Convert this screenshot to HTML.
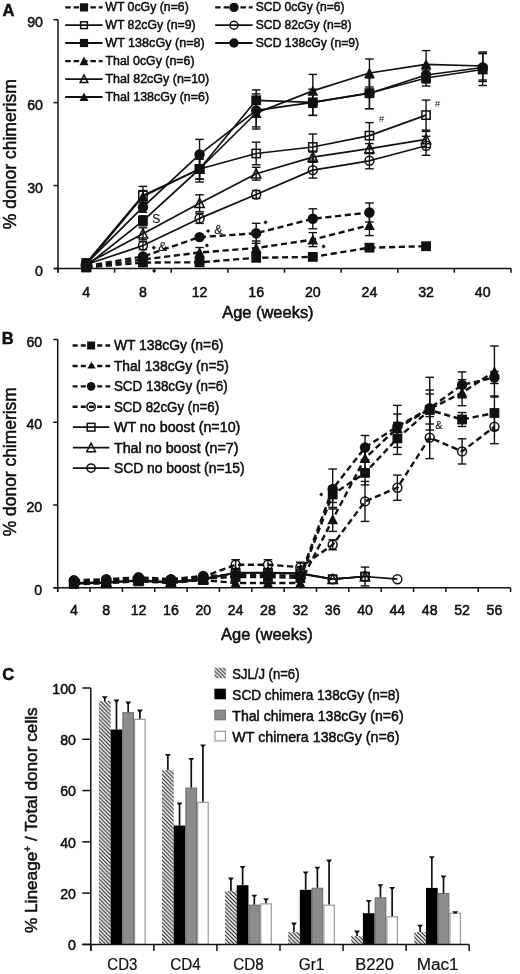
<!DOCTYPE html><html><head><meta charset="utf-8"><style>html,body{margin:0;padding:0;background:#fff;}svg{display:block;filter:blur(0.3px);}text{stroke:#000;stroke-width:0.45px;}</style></head><body>
<svg width="520" height="974" viewBox="0 0 520 974" font-family='"Liberation Sans", sans-serif' fill="#111">
<defs><pattern id="hatch" patternUnits="userSpaceOnUse" width="3.9" height="3.9"><rect width="3.9" height="3.9" fill="#fff"/><path d="M-1,-1 L4.9,4.9 M-1,2.9 L1,4.9 M2.9,-1 L4.9,1" stroke="#111" stroke-width="1.1"/></pattern></defs>
<rect width="520" height="974" fill="#fff"/>
<text x="2.60" y="16.40" font-size="16.5" font-weight="bold" >A</text>
<line x1="58.0" y1="19.70" x2="58.0" y2="272.50" stroke="#111" stroke-width="1.5"/>
<line x1="54.00" y1="268.5" x2="511.0" y2="268.5" stroke="#111" stroke-width="1.5"/>
<line x1="53.50" y1="268.50" x2="58.0" y2="268.50" stroke="#111" stroke-width="1.5"/>
<text x="43.00" y="275.90" font-size="14.2" text-anchor="end" >0</text>
<line x1="53.50" y1="185.57" x2="58.0" y2="185.57" stroke="#111" stroke-width="1.5"/>
<text x="43.00" y="192.97" font-size="14.2" text-anchor="end" >30</text>
<line x1="53.50" y1="102.63" x2="58.0" y2="102.63" stroke="#111" stroke-width="1.5"/>
<text x="43.00" y="110.03" font-size="14.2" text-anchor="end" >60</text>
<line x1="53.50" y1="19.70" x2="58.0" y2="19.70" stroke="#111" stroke-width="1.5"/>
<text x="43.00" y="27.10" font-size="14.2" text-anchor="end" >90</text>
<line x1="58.00" y1="268.5" x2="58.00" y2="272.70" stroke="#111" stroke-width="1.5"/>
<line x1="114.62" y1="268.5" x2="114.62" y2="272.70" stroke="#111" stroke-width="1.5"/>
<line x1="171.25" y1="268.5" x2="171.25" y2="272.70" stroke="#111" stroke-width="1.5"/>
<line x1="227.88" y1="268.5" x2="227.88" y2="272.70" stroke="#111" stroke-width="1.5"/>
<line x1="284.50" y1="268.5" x2="284.50" y2="272.70" stroke="#111" stroke-width="1.5"/>
<line x1="341.12" y1="268.5" x2="341.12" y2="272.70" stroke="#111" stroke-width="1.5"/>
<line x1="397.75" y1="268.5" x2="397.75" y2="272.70" stroke="#111" stroke-width="1.5"/>
<line x1="454.38" y1="268.5" x2="454.38" y2="272.70" stroke="#111" stroke-width="1.5"/>
<line x1="511.00" y1="268.5" x2="511.00" y2="272.70" stroke="#111" stroke-width="1.5"/>
<text x="86.31" y="296.50" font-size="14.2" text-anchor="middle" >4</text>
<text x="142.94" y="296.50" font-size="14.2" text-anchor="middle" >8</text>
<text x="199.56" y="296.50" font-size="14.2" text-anchor="middle" >12</text>
<text x="256.19" y="296.50" font-size="14.2" text-anchor="middle" >16</text>
<text x="312.81" y="296.50" font-size="14.2" text-anchor="middle" >20</text>
<text x="369.44" y="296.50" font-size="14.2" text-anchor="middle" >24</text>
<text x="426.06" y="296.50" font-size="14.2" text-anchor="middle" >32</text>
<text x="482.69" y="296.50" font-size="14.2" text-anchor="middle" >40</text>
<text x="222.20" y="317.80" font-size="15.6" textLength="91.40" lengthAdjust="spacingAndGlyphs" >Age (weeks)</text>
<text transform="translate(15.6,229.2) rotate(-90)" font-size="17.6" textLength="150" lengthAdjust="spacingAndGlyphs">% donor chimerism</text>
<line x1="65.20" y1="7.40" x2="102.60" y2="7.40" stroke="#111" stroke-width="2.3" stroke-dasharray="5.5 2.9"/>
<rect x="79.90" y="3.30" width="8.20" height="8.20" fill="#111"/>
<text x="105.30" y="11.40" font-size="12.3" textLength="83.50" lengthAdjust="spacingAndGlyphs" >WT 0cGy (n=6)</text>
<line x1="65.20" y1="25.20" x2="102.60" y2="25.20" stroke="#111" stroke-width="1.8"/>
<rect x="80.65" y="21.85" width="6.70" height="6.70" fill="none" stroke="#111" stroke-width="1.5"/>
<text x="105.30" y="29.20" font-size="12.3" textLength="90.30" lengthAdjust="spacingAndGlyphs" >WT 82cGy (n=9)</text>
<line x1="65.20" y1="43.00" x2="102.60" y2="43.00" stroke="#111" stroke-width="1.8"/>
<rect x="79.90" y="38.90" width="8.20" height="8.20" fill="#111"/>
<text x="105.30" y="47.00" font-size="12.3" textLength="99.40" lengthAdjust="spacingAndGlyphs" >WT 138cGy (n=8)</text>
<line x1="65.20" y1="61.20" x2="102.60" y2="61.20" stroke="#111" stroke-width="2.3" stroke-dasharray="5.5 2.9"/>
<polygon points="84.00,56.60 88.51,65.30 79.49,65.30" fill="#111"/>
<text x="105.50" y="65.20" font-size="12.3" textLength="89.10" lengthAdjust="spacingAndGlyphs" >Thal 0cGy (n=6)</text>
<line x1="65.20" y1="79.10" x2="102.60" y2="79.10" stroke="#111" stroke-width="1.8"/>
<polygon points="84.00,75.00 87.81,82.60 80.19,82.60" fill="none" stroke="#111" stroke-width="1.5" stroke-linejoin="miter"/>
<text x="105.50" y="83.10" font-size="12.3" textLength="103.70" lengthAdjust="spacingAndGlyphs" >Thal 82cGy (n=10)</text>
<line x1="65.20" y1="97.00" x2="102.60" y2="97.00" stroke="#111" stroke-width="1.8"/>
<polygon points="84.00,92.40 88.51,101.10 79.49,101.10" fill="#111"/>
<text x="105.50" y="101.00" font-size="12.3" textLength="103.70" lengthAdjust="spacingAndGlyphs" >Thal 138cGy (n=6)</text>
<line x1="215.20" y1="7.40" x2="252.60" y2="7.40" stroke="#111" stroke-width="2.3" stroke-dasharray="5.5 2.9"/>
<circle cx="234.00" cy="7.40" r="4.70" fill="#111"/>
<text x="255.70" y="11.40" font-size="12.3" textLength="88.90" lengthAdjust="spacingAndGlyphs" >SCD 0cGy (n=6)</text>
<line x1="215.20" y1="25.20" x2="252.60" y2="25.20" stroke="#111" stroke-width="1.8"/>
<circle cx="234.00" cy="25.20" r="3.95" fill="none" stroke="#111" stroke-width="1.5"/>
<text x="255.70" y="29.20" font-size="12.3" textLength="95.80" lengthAdjust="spacingAndGlyphs" >SCD 82cGy (n=8)</text>
<line x1="215.20" y1="43.00" x2="252.60" y2="43.00" stroke="#111" stroke-width="1.8"/>
<circle cx="234.00" cy="43.00" r="4.70" fill="#111"/>
<text x="255.70" y="47.00" font-size="12.3" textLength="103.50" lengthAdjust="spacingAndGlyphs" >SCD 138cGy (n=9)</text>
<polyline points="86.31,266.00 142.94,220.80 199.56,169.00 256.19,100.30 312.81,102.40 369.44,93.20 426.06,78.00 482.69,69.50" fill="none" stroke="#111" stroke-width="1.7" stroke-linejoin="round"/>
<polyline points="86.31,263.50 142.94,207.20 199.56,154.40 256.19,110.40 312.81,102.40 369.44,93.20 426.06,75.00 482.69,67.50" fill="none" stroke="#111" stroke-width="1.7" stroke-linejoin="round"/>
<polyline points="86.31,264.50 142.94,196.50 199.56,169.00 256.19,113.00 312.81,90.90 369.44,73.00 426.06,64.30 482.69,66.00" fill="none" stroke="#111" stroke-width="1.7" stroke-linejoin="round"/>
<polyline points="86.31,263.00 142.94,195.40 199.56,169.00 256.19,153.50 312.81,147.00 369.44,135.60 426.06,115.10" fill="none" stroke="#111" stroke-width="1.7" stroke-linejoin="round"/>
<polyline points="86.31,264.00 142.94,233.80 199.56,203.30 256.19,173.70 312.81,157.10 369.44,148.60 426.06,139.40" fill="none" stroke="#111" stroke-width="1.7" stroke-linejoin="round"/>
<polyline points="86.31,264.50 142.94,245.60 199.56,218.40 256.19,194.50 312.81,170.10 369.44,160.80 426.06,145.80" fill="none" stroke="#111" stroke-width="1.7" stroke-linejoin="round"/>
<polyline points="86.31,266.00 142.94,256.50 199.56,237.10 256.19,233.30 312.81,218.80 369.44,212.50" fill="none" stroke="#111" stroke-width="2.4" stroke-dasharray="6.2 3.6" stroke-linejoin="round"/>
<polyline points="86.31,267.00 142.94,259.50 199.56,252.50 256.19,248.00 312.81,239.60 369.44,225.20" fill="none" stroke="#111" stroke-width="2.4" stroke-dasharray="6.2 3.6" stroke-linejoin="round"/>
<polyline points="86.31,267.50 142.94,262.50 199.56,262.30 256.19,257.80 312.81,256.90 369.44,247.70 426.06,246.20" fill="none" stroke="#111" stroke-width="2.4" stroke-dasharray="6.2 3.6" stroke-linejoin="round"/>
<rect x="81.41" y="261.10" width="9.80" height="9.80" fill="#111"/>
<rect x="138.04" y="215.90" width="9.80" height="9.80" fill="#111"/>
<rect x="194.66" y="164.10" width="9.80" height="9.80" fill="#111"/>
<rect x="251.29" y="95.40" width="9.80" height="9.80" fill="#111"/>
<rect x="307.91" y="97.50" width="9.80" height="9.80" fill="#111"/>
<rect x="364.54" y="88.30" width="9.80" height="9.80" fill="#111"/>
<rect x="421.16" y="73.10" width="9.80" height="9.80" fill="#111"/>
<rect x="477.79" y="64.60" width="9.80" height="9.80" fill="#111"/>
<circle cx="86.31" cy="263.50" r="5.20" fill="#111"/>
<circle cx="142.94" cy="207.20" r="5.20" fill="#111"/>
<circle cx="199.56" cy="154.40" r="5.20" fill="#111"/>
<circle cx="256.19" cy="110.40" r="5.20" fill="#111"/>
<circle cx="312.81" cy="102.40" r="5.20" fill="#111"/>
<circle cx="369.44" cy="93.20" r="5.20" fill="#111"/>
<circle cx="426.06" cy="75.00" r="5.20" fill="#111"/>
<circle cx="482.69" cy="67.50" r="5.20" fill="#111"/>
<polygon points="86.31,259.10 91.70,269.40 80.92,269.40" fill="#111"/>
<polygon points="142.94,191.10 148.33,201.40 137.55,201.40" fill="#111"/>
<polygon points="199.56,163.60 204.95,173.90 194.17,173.90" fill="#111"/>
<polygon points="256.19,107.60 261.58,117.90 250.80,117.90" fill="#111"/>
<polygon points="312.81,85.50 318.20,95.80 307.42,95.80" fill="#111"/>
<polygon points="369.44,67.60 374.83,77.90 364.05,77.90" fill="#111"/>
<polygon points="426.06,58.90 431.45,69.20 420.67,69.20" fill="#111"/>
<polygon points="482.69,60.60 488.08,70.90 477.30,70.90" fill="#111"/>
<rect x="82.16" y="258.85" width="8.30" height="8.30" fill="none" stroke="#111" stroke-width="1.5"/>
<rect x="138.79" y="191.25" width="8.30" height="8.30" fill="none" stroke="#111" stroke-width="1.5"/>
<rect x="195.41" y="164.85" width="8.30" height="8.30" fill="none" stroke="#111" stroke-width="1.5"/>
<rect x="252.04" y="149.35" width="8.30" height="8.30" fill="none" stroke="#111" stroke-width="1.5"/>
<rect x="308.66" y="142.85" width="8.30" height="8.30" fill="none" stroke="#111" stroke-width="1.5"/>
<rect x="365.29" y="131.45" width="8.30" height="8.30" fill="none" stroke="#111" stroke-width="1.5"/>
<rect x="421.91" y="110.95" width="8.30" height="8.30" fill="none" stroke="#111" stroke-width="1.5"/>
<polygon points="86.31,259.10 91.00,268.30 81.62,268.30" fill="none" stroke="#111" stroke-width="1.5" stroke-linejoin="miter"/>
<polygon points="142.94,228.90 147.63,238.10 138.25,238.10" fill="none" stroke="#111" stroke-width="1.5" stroke-linejoin="miter"/>
<polygon points="199.56,198.40 204.25,207.60 194.87,207.60" fill="none" stroke="#111" stroke-width="1.5" stroke-linejoin="miter"/>
<polygon points="256.19,168.80 260.88,178.00 251.50,178.00" fill="none" stroke="#111" stroke-width="1.5" stroke-linejoin="miter"/>
<polygon points="312.81,152.20 317.50,161.40 308.12,161.40" fill="none" stroke="#111" stroke-width="1.5" stroke-linejoin="miter"/>
<polygon points="369.44,143.70 374.13,152.90 364.75,152.90" fill="none" stroke="#111" stroke-width="1.5" stroke-linejoin="miter"/>
<polygon points="426.06,134.50 430.75,143.70 421.37,143.70" fill="none" stroke="#111" stroke-width="1.5" stroke-linejoin="miter"/>
<circle cx="86.31" cy="264.50" r="4.45" fill="none" stroke="#111" stroke-width="1.5"/>
<circle cx="142.94" cy="245.60" r="4.45" fill="none" stroke="#111" stroke-width="1.5"/>
<circle cx="199.56" cy="218.40" r="4.45" fill="none" stroke="#111" stroke-width="1.5"/>
<circle cx="256.19" cy="194.50" r="4.45" fill="none" stroke="#111" stroke-width="1.5"/>
<circle cx="312.81" cy="170.10" r="4.45" fill="none" stroke="#111" stroke-width="1.5"/>
<circle cx="369.44" cy="160.80" r="4.45" fill="none" stroke="#111" stroke-width="1.5"/>
<circle cx="426.06" cy="145.80" r="4.45" fill="none" stroke="#111" stroke-width="1.5"/>
<circle cx="86.31" cy="266.00" r="5.20" fill="#111"/>
<circle cx="142.94" cy="256.50" r="5.20" fill="#111"/>
<circle cx="199.56" cy="237.10" r="5.20" fill="#111"/>
<circle cx="256.19" cy="233.30" r="5.20" fill="#111"/>
<circle cx="312.81" cy="218.80" r="5.20" fill="#111"/>
<circle cx="369.44" cy="212.50" r="5.20" fill="#111"/>
<polygon points="86.31,261.60 91.70,271.90 80.92,271.90" fill="#111"/>
<polygon points="142.94,254.10 148.33,264.40 137.55,264.40" fill="#111"/>
<polygon points="199.56,247.10 204.95,257.40 194.17,257.40" fill="#111"/>
<polygon points="256.19,242.60 261.58,252.90 250.80,252.90" fill="#111"/>
<polygon points="312.81,234.20 318.20,244.50 307.42,244.50" fill="#111"/>
<polygon points="369.44,219.80 374.83,230.10 364.05,230.10" fill="#111"/>
<rect x="81.41" y="262.60" width="9.80" height="9.80" fill="#111"/>
<rect x="138.04" y="257.60" width="9.80" height="9.80" fill="#111"/>
<rect x="194.66" y="257.40" width="9.80" height="9.80" fill="#111"/>
<rect x="251.29" y="252.90" width="9.80" height="9.80" fill="#111"/>
<rect x="307.91" y="252.00" width="9.80" height="9.80" fill="#111"/>
<rect x="364.54" y="242.80" width="9.80" height="9.80" fill="#111"/>
<rect x="421.16" y="241.30" width="9.80" height="9.80" fill="#111"/>
<line x1="142.94" y1="215.80" x2="142.94" y2="225.80" stroke="#111" stroke-width="1.4"/>
<line x1="138.64" y1="215.80" x2="147.24" y2="215.80" stroke="#111" stroke-width="1.4"/>
<line x1="138.64" y1="225.80" x2="147.24" y2="225.80" stroke="#111" stroke-width="1.4"/>
<line x1="199.56" y1="159.00" x2="199.56" y2="179.00" stroke="#111" stroke-width="1.4"/>
<line x1="195.26" y1="159.00" x2="203.86" y2="159.00" stroke="#111" stroke-width="1.4"/>
<line x1="195.26" y1="179.00" x2="203.86" y2="179.00" stroke="#111" stroke-width="1.4"/>
<line x1="256.19" y1="89.90" x2="256.19" y2="110.70" stroke="#111" stroke-width="1.4"/>
<line x1="251.89" y1="89.90" x2="260.49" y2="89.90" stroke="#111" stroke-width="1.4"/>
<line x1="251.89" y1="110.70" x2="260.49" y2="110.70" stroke="#111" stroke-width="1.4"/>
<line x1="312.81" y1="89.40" x2="312.81" y2="115.40" stroke="#111" stroke-width="1.4"/>
<line x1="308.51" y1="89.40" x2="317.11" y2="89.40" stroke="#111" stroke-width="1.4"/>
<line x1="308.51" y1="115.40" x2="317.11" y2="115.40" stroke="#111" stroke-width="1.4"/>
<line x1="369.44" y1="77.70" x2="369.44" y2="108.70" stroke="#111" stroke-width="1.4"/>
<line x1="365.14" y1="77.70" x2="373.74" y2="77.70" stroke="#111" stroke-width="1.4"/>
<line x1="365.14" y1="108.70" x2="373.74" y2="108.70" stroke="#111" stroke-width="1.4"/>
<line x1="426.06" y1="70.00" x2="426.06" y2="86.00" stroke="#111" stroke-width="1.4"/>
<line x1="421.76" y1="70.00" x2="430.36" y2="70.00" stroke="#111" stroke-width="1.4"/>
<line x1="421.76" y1="86.00" x2="430.36" y2="86.00" stroke="#111" stroke-width="1.4"/>
<line x1="482.69" y1="53.50" x2="482.69" y2="85.50" stroke="#111" stroke-width="1.4"/>
<line x1="478.39" y1="53.50" x2="486.99" y2="53.50" stroke="#111" stroke-width="1.4"/>
<line x1="478.39" y1="85.50" x2="486.99" y2="85.50" stroke="#111" stroke-width="1.4"/>
<line x1="142.94" y1="202.20" x2="142.94" y2="212.20" stroke="#111" stroke-width="1.4"/>
<line x1="138.64" y1="202.20" x2="147.24" y2="202.20" stroke="#111" stroke-width="1.4"/>
<line x1="138.64" y1="212.20" x2="147.24" y2="212.20" stroke="#111" stroke-width="1.4"/>
<line x1="199.56" y1="139.40" x2="199.56" y2="169.40" stroke="#111" stroke-width="1.4"/>
<line x1="195.26" y1="139.40" x2="203.86" y2="139.40" stroke="#111" stroke-width="1.4"/>
<line x1="195.26" y1="169.40" x2="203.86" y2="169.40" stroke="#111" stroke-width="1.4"/>
<line x1="256.19" y1="93.90" x2="256.19" y2="126.90" stroke="#111" stroke-width="1.4"/>
<line x1="251.89" y1="93.90" x2="260.49" y2="93.90" stroke="#111" stroke-width="1.4"/>
<line x1="251.89" y1="126.90" x2="260.49" y2="126.90" stroke="#111" stroke-width="1.4"/>
<line x1="312.81" y1="89.40" x2="312.81" y2="115.40" stroke="#111" stroke-width="1.4"/>
<line x1="308.51" y1="89.40" x2="317.11" y2="89.40" stroke="#111" stroke-width="1.4"/>
<line x1="308.51" y1="115.40" x2="317.11" y2="115.40" stroke="#111" stroke-width="1.4"/>
<line x1="369.44" y1="77.70" x2="369.44" y2="108.70" stroke="#111" stroke-width="1.4"/>
<line x1="365.14" y1="77.70" x2="373.74" y2="77.70" stroke="#111" stroke-width="1.4"/>
<line x1="365.14" y1="108.70" x2="373.74" y2="108.70" stroke="#111" stroke-width="1.4"/>
<line x1="426.06" y1="67.00" x2="426.06" y2="83.00" stroke="#111" stroke-width="1.4"/>
<line x1="421.76" y1="67.00" x2="430.36" y2="67.00" stroke="#111" stroke-width="1.4"/>
<line x1="421.76" y1="83.00" x2="430.36" y2="83.00" stroke="#111" stroke-width="1.4"/>
<line x1="482.69" y1="53.50" x2="482.69" y2="81.50" stroke="#111" stroke-width="1.4"/>
<line x1="478.39" y1="53.50" x2="486.99" y2="53.50" stroke="#111" stroke-width="1.4"/>
<line x1="478.39" y1="81.50" x2="486.99" y2="81.50" stroke="#111" stroke-width="1.4"/>
<line x1="142.94" y1="190.50" x2="142.94" y2="202.50" stroke="#111" stroke-width="1.4"/>
<line x1="138.64" y1="190.50" x2="147.24" y2="190.50" stroke="#111" stroke-width="1.4"/>
<line x1="138.64" y1="202.50" x2="147.24" y2="202.50" stroke="#111" stroke-width="1.4"/>
<line x1="199.56" y1="159.00" x2="199.56" y2="179.00" stroke="#111" stroke-width="1.4"/>
<line x1="195.26" y1="159.00" x2="203.86" y2="159.00" stroke="#111" stroke-width="1.4"/>
<line x1="195.26" y1="179.00" x2="203.86" y2="179.00" stroke="#111" stroke-width="1.4"/>
<line x1="256.19" y1="97.00" x2="256.19" y2="129.00" stroke="#111" stroke-width="1.4"/>
<line x1="251.89" y1="97.00" x2="260.49" y2="97.00" stroke="#111" stroke-width="1.4"/>
<line x1="251.89" y1="129.00" x2="260.49" y2="129.00" stroke="#111" stroke-width="1.4"/>
<line x1="312.81" y1="74.40" x2="312.81" y2="107.40" stroke="#111" stroke-width="1.4"/>
<line x1="308.51" y1="74.40" x2="317.11" y2="74.40" stroke="#111" stroke-width="1.4"/>
<line x1="308.51" y1="107.40" x2="317.11" y2="107.40" stroke="#111" stroke-width="1.4"/>
<line x1="369.44" y1="59.00" x2="369.44" y2="87.00" stroke="#111" stroke-width="1.4"/>
<line x1="365.14" y1="59.00" x2="373.74" y2="59.00" stroke="#111" stroke-width="1.4"/>
<line x1="365.14" y1="87.00" x2="373.74" y2="87.00" stroke="#111" stroke-width="1.4"/>
<line x1="426.06" y1="50.60" x2="426.06" y2="78.00" stroke="#111" stroke-width="1.4"/>
<line x1="421.76" y1="50.60" x2="430.36" y2="50.60" stroke="#111" stroke-width="1.4"/>
<line x1="421.76" y1="78.00" x2="430.36" y2="78.00" stroke="#111" stroke-width="1.4"/>
<line x1="482.69" y1="52.00" x2="482.69" y2="80.00" stroke="#111" stroke-width="1.4"/>
<line x1="478.39" y1="52.00" x2="486.99" y2="52.00" stroke="#111" stroke-width="1.4"/>
<line x1="478.39" y1="80.00" x2="486.99" y2="80.00" stroke="#111" stroke-width="1.4"/>
<line x1="86.31" y1="259.50" x2="86.31" y2="266.50" stroke="#111" stroke-width="1.4"/>
<line x1="82.01" y1="259.50" x2="90.61" y2="259.50" stroke="#111" stroke-width="1.4"/>
<line x1="82.01" y1="266.50" x2="90.61" y2="266.50" stroke="#111" stroke-width="1.4"/>
<line x1="142.94" y1="186.40" x2="142.94" y2="204.40" stroke="#111" stroke-width="1.4"/>
<line x1="138.64" y1="186.40" x2="147.24" y2="186.40" stroke="#111" stroke-width="1.4"/>
<line x1="138.64" y1="204.40" x2="147.24" y2="204.40" stroke="#111" stroke-width="1.4"/>
<line x1="199.56" y1="156.00" x2="199.56" y2="182.00" stroke="#111" stroke-width="1.4"/>
<line x1="195.26" y1="156.00" x2="203.86" y2="156.00" stroke="#111" stroke-width="1.4"/>
<line x1="195.26" y1="182.00" x2="203.86" y2="182.00" stroke="#111" stroke-width="1.4"/>
<line x1="256.19" y1="142.20" x2="256.19" y2="164.80" stroke="#111" stroke-width="1.4"/>
<line x1="251.89" y1="142.20" x2="260.49" y2="142.20" stroke="#111" stroke-width="1.4"/>
<line x1="251.89" y1="164.80" x2="260.49" y2="164.80" stroke="#111" stroke-width="1.4"/>
<line x1="312.81" y1="134.00" x2="312.81" y2="160.00" stroke="#111" stroke-width="1.4"/>
<line x1="308.51" y1="134.00" x2="317.11" y2="134.00" stroke="#111" stroke-width="1.4"/>
<line x1="308.51" y1="160.00" x2="317.11" y2="160.00" stroke="#111" stroke-width="1.4"/>
<line x1="369.44" y1="122.60" x2="369.44" y2="148.60" stroke="#111" stroke-width="1.4"/>
<line x1="365.14" y1="122.60" x2="373.74" y2="122.60" stroke="#111" stroke-width="1.4"/>
<line x1="365.14" y1="148.60" x2="373.74" y2="148.60" stroke="#111" stroke-width="1.4"/>
<line x1="426.06" y1="100.10" x2="426.06" y2="130.10" stroke="#111" stroke-width="1.4"/>
<line x1="421.76" y1="100.10" x2="430.36" y2="100.10" stroke="#111" stroke-width="1.4"/>
<line x1="421.76" y1="130.10" x2="430.36" y2="130.10" stroke="#111" stroke-width="1.4"/>
<line x1="86.31" y1="260.50" x2="86.31" y2="267.50" stroke="#111" stroke-width="1.4"/>
<line x1="82.01" y1="260.50" x2="90.61" y2="260.50" stroke="#111" stroke-width="1.4"/>
<line x1="82.01" y1="267.50" x2="90.61" y2="267.50" stroke="#111" stroke-width="1.4"/>
<line x1="142.94" y1="227.80" x2="142.94" y2="239.80" stroke="#111" stroke-width="1.4"/>
<line x1="138.64" y1="227.80" x2="147.24" y2="227.80" stroke="#111" stroke-width="1.4"/>
<line x1="138.64" y1="239.80" x2="147.24" y2="239.80" stroke="#111" stroke-width="1.4"/>
<line x1="199.56" y1="194.80" x2="199.56" y2="211.80" stroke="#111" stroke-width="1.4"/>
<line x1="195.26" y1="194.80" x2="203.86" y2="194.80" stroke="#111" stroke-width="1.4"/>
<line x1="195.26" y1="211.80" x2="203.86" y2="211.80" stroke="#111" stroke-width="1.4"/>
<line x1="256.19" y1="167.30" x2="256.19" y2="180.10" stroke="#111" stroke-width="1.4"/>
<line x1="251.89" y1="167.30" x2="260.49" y2="167.30" stroke="#111" stroke-width="1.4"/>
<line x1="251.89" y1="180.10" x2="260.49" y2="180.10" stroke="#111" stroke-width="1.4"/>
<line x1="312.81" y1="152.10" x2="312.81" y2="162.10" stroke="#111" stroke-width="1.4"/>
<line x1="308.51" y1="152.10" x2="317.11" y2="152.10" stroke="#111" stroke-width="1.4"/>
<line x1="308.51" y1="162.10" x2="317.11" y2="162.10" stroke="#111" stroke-width="1.4"/>
<line x1="369.44" y1="143.60" x2="369.44" y2="153.60" stroke="#111" stroke-width="1.4"/>
<line x1="365.14" y1="143.60" x2="373.74" y2="143.60" stroke="#111" stroke-width="1.4"/>
<line x1="365.14" y1="153.60" x2="373.74" y2="153.60" stroke="#111" stroke-width="1.4"/>
<line x1="426.06" y1="131.40" x2="426.06" y2="147.40" stroke="#111" stroke-width="1.4"/>
<line x1="421.76" y1="131.40" x2="430.36" y2="131.40" stroke="#111" stroke-width="1.4"/>
<line x1="421.76" y1="147.40" x2="430.36" y2="147.40" stroke="#111" stroke-width="1.4"/>
<line x1="86.31" y1="261.00" x2="86.31" y2="268.00" stroke="#111" stroke-width="1.4"/>
<line x1="82.01" y1="261.00" x2="90.61" y2="261.00" stroke="#111" stroke-width="1.4"/>
<line x1="82.01" y1="268.00" x2="90.61" y2="268.00" stroke="#111" stroke-width="1.4"/>
<line x1="142.94" y1="241.60" x2="142.94" y2="249.60" stroke="#111" stroke-width="1.4"/>
<line x1="138.64" y1="241.60" x2="147.24" y2="241.60" stroke="#111" stroke-width="1.4"/>
<line x1="138.64" y1="249.60" x2="147.24" y2="249.60" stroke="#111" stroke-width="1.4"/>
<line x1="199.56" y1="213.40" x2="199.56" y2="223.40" stroke="#111" stroke-width="1.4"/>
<line x1="195.26" y1="213.40" x2="203.86" y2="213.40" stroke="#111" stroke-width="1.4"/>
<line x1="195.26" y1="223.40" x2="203.86" y2="223.40" stroke="#111" stroke-width="1.4"/>
<line x1="256.19" y1="190.50" x2="256.19" y2="198.50" stroke="#111" stroke-width="1.4"/>
<line x1="251.89" y1="190.50" x2="260.49" y2="190.50" stroke="#111" stroke-width="1.4"/>
<line x1="251.89" y1="198.50" x2="260.49" y2="198.50" stroke="#111" stroke-width="1.4"/>
<line x1="312.81" y1="162.10" x2="312.81" y2="178.10" stroke="#111" stroke-width="1.4"/>
<line x1="308.51" y1="162.10" x2="317.11" y2="162.10" stroke="#111" stroke-width="1.4"/>
<line x1="308.51" y1="178.10" x2="317.11" y2="178.10" stroke="#111" stroke-width="1.4"/>
<line x1="369.44" y1="152.80" x2="369.44" y2="168.80" stroke="#111" stroke-width="1.4"/>
<line x1="365.14" y1="152.80" x2="373.74" y2="152.80" stroke="#111" stroke-width="1.4"/>
<line x1="365.14" y1="168.80" x2="373.74" y2="168.80" stroke="#111" stroke-width="1.4"/>
<line x1="426.06" y1="136.30" x2="426.06" y2="155.30" stroke="#111" stroke-width="1.4"/>
<line x1="421.76" y1="136.30" x2="430.36" y2="136.30" stroke="#111" stroke-width="1.4"/>
<line x1="421.76" y1="155.30" x2="430.36" y2="155.30" stroke="#111" stroke-width="1.4"/>
<line x1="256.19" y1="223.30" x2="256.19" y2="243.30" stroke="#111" stroke-width="1.4"/>
<line x1="251.89" y1="223.30" x2="260.49" y2="223.30" stroke="#111" stroke-width="1.4"/>
<line x1="251.89" y1="243.30" x2="260.49" y2="243.30" stroke="#111" stroke-width="1.4"/>
<line x1="312.81" y1="208.80" x2="312.81" y2="228.80" stroke="#111" stroke-width="1.4"/>
<line x1="308.51" y1="208.80" x2="317.11" y2="208.80" stroke="#111" stroke-width="1.4"/>
<line x1="308.51" y1="228.80" x2="317.11" y2="228.80" stroke="#111" stroke-width="1.4"/>
<line x1="369.44" y1="203.00" x2="369.44" y2="222.00" stroke="#111" stroke-width="1.4"/>
<line x1="365.14" y1="203.00" x2="373.74" y2="203.00" stroke="#111" stroke-width="1.4"/>
<line x1="365.14" y1="222.00" x2="373.74" y2="222.00" stroke="#111" stroke-width="1.4"/>
<line x1="199.56" y1="247.50" x2="199.56" y2="257.50" stroke="#111" stroke-width="1.4"/>
<line x1="195.26" y1="247.50" x2="203.86" y2="247.50" stroke="#111" stroke-width="1.4"/>
<line x1="195.26" y1="257.50" x2="203.86" y2="257.50" stroke="#111" stroke-width="1.4"/>
<line x1="256.19" y1="241.00" x2="256.19" y2="255.00" stroke="#111" stroke-width="1.4"/>
<line x1="251.89" y1="241.00" x2="260.49" y2="241.00" stroke="#111" stroke-width="1.4"/>
<line x1="251.89" y1="255.00" x2="260.49" y2="255.00" stroke="#111" stroke-width="1.4"/>
<line x1="312.81" y1="232.60" x2="312.81" y2="246.60" stroke="#111" stroke-width="1.4"/>
<line x1="308.51" y1="232.60" x2="317.11" y2="232.60" stroke="#111" stroke-width="1.4"/>
<line x1="308.51" y1="246.60" x2="317.11" y2="246.60" stroke="#111" stroke-width="1.4"/>
<line x1="369.44" y1="214.80" x2="369.44" y2="235.60" stroke="#111" stroke-width="1.4"/>
<line x1="365.14" y1="214.80" x2="373.74" y2="214.80" stroke="#111" stroke-width="1.4"/>
<line x1="365.14" y1="235.60" x2="373.74" y2="235.60" stroke="#111" stroke-width="1.4"/>
<ellipse cx="86.31" cy="265.3" rx="5.8" ry="6.3" fill="#111"/>
<text x="152.30" y="222.90" font-size="12" style="stroke-width:0.15px">S</text>
<text x="158.20" y="250.60" font-size="13.2" style="stroke-width:0.15px">&amp;</text>
<text x="214.20" y="234.30" font-size="12.2" style="stroke-width:0.15px">&amp;</text>
<polygon points="153.70,245.60 155.80,247.70 153.70,249.80 151.60,247.70" fill="#111"/>
<polygon points="154.20,268.70 156.30,270.80 154.20,272.90 152.10,270.80" fill="#111"/>
<polygon points="208.10,228.90 210.20,231.00 208.10,233.10 206.00,231.00" fill="#111"/>
<polygon points="206.90,243.30 209.00,245.40 206.90,247.50 204.80,245.40" fill="#111"/>
<polygon points="265.50,220.20 267.60,222.30 265.50,224.40 263.40,222.30" fill="#111"/>
<polygon points="323.60,244.30 325.70,246.40 323.60,248.50 321.50,246.40" fill="#111"/>
<text x="378.80" y="121.50" font-size="9.5" font-style="italic" style="stroke-width:0">#</text>
<text x="434.80" y="106.50" font-size="9.5" font-style="italic" style="stroke-width:0">#</text>
<text x="1.80" y="343.90" font-size="16.5" font-weight="bold" >B</text>
<line x1="57.7" y1="339.50" x2="57.7" y2="591.80" stroke="#111" stroke-width="1.5"/>
<line x1="53.70" y1="587.8" x2="510.6" y2="587.8" stroke="#111" stroke-width="1.5"/>
<line x1="53.20" y1="587.80" x2="57.7" y2="587.80" stroke="#111" stroke-width="1.5"/>
<text x="42.20" y="595.00" font-size="14.2" text-anchor="end" >0</text>
<line x1="53.20" y1="505.03" x2="57.7" y2="505.03" stroke="#111" stroke-width="1.5"/>
<text x="42.20" y="512.23" font-size="14.2" text-anchor="end" >20</text>
<line x1="53.20" y1="422.27" x2="57.7" y2="422.27" stroke="#111" stroke-width="1.5"/>
<text x="42.20" y="429.47" font-size="14.2" text-anchor="end" >40</text>
<line x1="53.20" y1="339.50" x2="57.7" y2="339.50" stroke="#111" stroke-width="1.5"/>
<text x="42.20" y="346.70" font-size="14.2" text-anchor="end" >60</text>
<line x1="57.70" y1="587.8" x2="57.70" y2="592.00" stroke="#111" stroke-width="1.5"/>
<line x1="90.05" y1="587.8" x2="90.05" y2="592.00" stroke="#111" stroke-width="1.5"/>
<line x1="122.40" y1="587.8" x2="122.40" y2="592.00" stroke="#111" stroke-width="1.5"/>
<line x1="154.75" y1="587.8" x2="154.75" y2="592.00" stroke="#111" stroke-width="1.5"/>
<line x1="187.10" y1="587.8" x2="187.10" y2="592.00" stroke="#111" stroke-width="1.5"/>
<line x1="219.45" y1="587.8" x2="219.45" y2="592.00" stroke="#111" stroke-width="1.5"/>
<line x1="251.80" y1="587.8" x2="251.80" y2="592.00" stroke="#111" stroke-width="1.5"/>
<line x1="284.15" y1="587.8" x2="284.15" y2="592.00" stroke="#111" stroke-width="1.5"/>
<line x1="316.50" y1="587.8" x2="316.50" y2="592.00" stroke="#111" stroke-width="1.5"/>
<line x1="348.85" y1="587.8" x2="348.85" y2="592.00" stroke="#111" stroke-width="1.5"/>
<line x1="381.20" y1="587.8" x2="381.20" y2="592.00" stroke="#111" stroke-width="1.5"/>
<line x1="413.55" y1="587.8" x2="413.55" y2="592.00" stroke="#111" stroke-width="1.5"/>
<line x1="445.90" y1="587.8" x2="445.90" y2="592.00" stroke="#111" stroke-width="1.5"/>
<line x1="478.25" y1="587.8" x2="478.25" y2="592.00" stroke="#111" stroke-width="1.5"/>
<line x1="510.60" y1="587.8" x2="510.60" y2="592.00" stroke="#111" stroke-width="1.5"/>
<text x="73.88" y="615.20" font-size="14.2" text-anchor="middle" >4</text>
<text x="106.23" y="615.20" font-size="14.2" text-anchor="middle" >8</text>
<text x="138.57" y="615.20" font-size="14.2" text-anchor="middle" >12</text>
<text x="170.93" y="615.20" font-size="14.2" text-anchor="middle" >16</text>
<text x="203.28" y="615.20" font-size="14.2" text-anchor="middle" >20</text>
<text x="235.62" y="615.20" font-size="14.2" text-anchor="middle" >24</text>
<text x="267.98" y="615.20" font-size="14.2" text-anchor="middle" >28</text>
<text x="300.32" y="615.20" font-size="14.2" text-anchor="middle" >32</text>
<text x="332.68" y="615.20" font-size="14.2" text-anchor="middle" >36</text>
<text x="365.02" y="615.20" font-size="14.2" text-anchor="middle" >40</text>
<text x="397.38" y="615.20" font-size="14.2" text-anchor="middle" >44</text>
<text x="429.73" y="615.20" font-size="14.2" text-anchor="middle" >48</text>
<text x="462.07" y="615.20" font-size="14.2" text-anchor="middle" >52</text>
<text x="494.43" y="615.20" font-size="14.2" text-anchor="middle" >56</text>
<text x="221.00" y="639.80" font-size="15.6" textLength="91.80" lengthAdjust="spacingAndGlyphs" >Age (weeks)</text>
<text transform="translate(15.6,536.2) rotate(-90)" font-size="17.6" textLength="149" lengthAdjust="spacingAndGlyphs">% donor chimerism</text>
<line x1="72.6" y1="345.50" x2="110.2" y2="345.50" stroke="#111" stroke-width="2.4" stroke-dasharray="5 3.2"/>
<rect x="87.10" y="341.50" width="8.00" height="8.00" fill="#111"/>
<text x="113.90" y="350.40" font-size="14.0" textLength="109.60" lengthAdjust="spacingAndGlyphs" >WT 138cGy (n=6)</text>
<line x1="72.6" y1="365.93" x2="110.2" y2="365.93" stroke="#111" stroke-width="2.4" stroke-dasharray="5 3.2"/>
<polygon points="91.5,361.63 95.7,368.53 87.3,368.53" fill="#111"/>
<text x="113.90" y="370.83" font-size="14.0" textLength="114.90" lengthAdjust="spacingAndGlyphs" >Thal 138cGy (n=5)</text>
<line x1="72.6" y1="386.36" x2="110.2" y2="386.36" stroke="#111" stroke-width="2.4" stroke-dasharray="5 3.2"/>
<circle cx="91.10" cy="386.36" r="4.30" fill="#111"/>
<text x="113.90" y="391.26" font-size="14.0" textLength="113.80" lengthAdjust="spacingAndGlyphs" >SCD 138cGy (n=6)</text>
<line x1="72.6" y1="406.79" x2="110.2" y2="406.79" stroke="#111" stroke-width="2.4" stroke-dasharray="5 3.2"/>
<circle cx="91.10" cy="406.79" r="4.15" fill="none" stroke="#111" stroke-width="1.5"/>
<text x="113.90" y="411.69" font-size="14.0" textLength="105.30" lengthAdjust="spacingAndGlyphs" >SCD 82cGy (n=6)</text>
<line x1="72.9" y1="427.22" x2="109.4" y2="427.22" stroke="#111" stroke-width="1.8"/>
<rect x="87.25" y="423.37" width="7.70" height="7.70" fill="none" stroke="#111" stroke-width="1.5"/>
<text x="113.90" y="432.12" font-size="14.0" textLength="126.50" lengthAdjust="spacingAndGlyphs" >WT no boost (n=10)</text>
<line x1="72.9" y1="447.65" x2="109.4" y2="447.65" stroke="#111" stroke-width="1.8"/>
<polygon points="91.10,443.05 95.46,451.65 86.74,451.65" fill="none" stroke="#111" stroke-width="1.5" stroke-linejoin="miter"/>
<text x="113.90" y="452.55" font-size="14.0" textLength="124.60" lengthAdjust="spacingAndGlyphs" >Thal no boost (n=7)</text>
<line x1="72.9" y1="468.08" x2="109.4" y2="468.08" stroke="#111" stroke-width="1.8"/>
<circle cx="91.10" cy="468.08" r="4.15" fill="none" stroke="#111" stroke-width="1.5"/>
<text x="113.90" y="472.98" font-size="14.0" textLength="130.70" lengthAdjust="spacingAndGlyphs" >SCD no boost (n=15)</text>
<polyline points="73.88,582.70 106.23,581.80 138.57,579.80 170.93,581.60 203.28,578.50 235.62,577.00 267.98,577.00 300.32,578.00 332.68,494.50 365.02,472.90 397.38,438.40 429.73,410.00 462.07,419.50 494.43,413.00" fill="none" stroke="#111" stroke-width="2.4" stroke-dasharray="6.2 3.6" stroke-linejoin="round"/>
<polyline points="73.88,584.20 106.23,583.30 138.57,581.30 170.93,583.10 203.28,580.00 235.62,583.00 267.98,583.00 300.32,583.00 332.68,519.40 365.02,458.10 397.38,428.00 429.73,409.00 462.07,392.70 494.43,371.50" fill="none" stroke="#111" stroke-width="2.4" stroke-dasharray="6.2 3.6" stroke-linejoin="round"/>
<polyline points="73.88,580.20 106.23,579.30 138.57,577.30 170.93,579.10 203.28,576.00 235.62,575.00 267.98,575.00 300.32,576.00 332.68,489.00 365.02,447.50 397.38,426.40 429.73,408.30 462.07,384.90 494.43,377.50" fill="none" stroke="#111" stroke-width="2.4" stroke-dasharray="6.2 3.6" stroke-linejoin="round"/>
<polyline points="73.88,580.90 106.23,580.00 138.57,578.00 170.93,579.80 203.28,576.70 235.62,564.70 267.98,564.70 300.32,567.20 332.68,544.80 365.02,501.40 397.38,487.70 429.73,437.60 462.07,451.40 494.43,426.70" fill="none" stroke="#111" stroke-width="2.4" stroke-dasharray="6.2 3.6" stroke-linejoin="round"/>
<polyline points="73.88,583.90 106.23,583.00 138.57,581.00 170.93,582.80 203.28,579.70 235.62,573.00 267.98,573.00 300.32,573.50 332.68,579.20 365.02,576.50" fill="none" stroke="#111" stroke-width="1.7" stroke-linejoin="round"/>
<polyline points="73.88,582.90 106.23,582.00 138.57,580.00 170.93,581.80 203.28,578.70 235.62,573.00 267.98,573.00 300.32,574.00 332.68,579.20 365.02,576.50" fill="none" stroke="#111" stroke-width="1.7" stroke-linejoin="round"/>
<polyline points="73.88,583.40 106.23,582.50 138.57,580.50 170.93,582.30 203.28,579.20 235.62,572.50 267.98,572.50 300.32,573.00 332.68,579.20 365.02,576.50 397.38,579.20" fill="none" stroke="#111" stroke-width="1.7" stroke-linejoin="round"/>
<rect x="68.97" y="577.80" width="9.80" height="9.80" fill="#111"/>
<rect x="101.33" y="576.90" width="9.80" height="9.80" fill="#111"/>
<rect x="133.67" y="574.90" width="9.80" height="9.80" fill="#111"/>
<rect x="166.03" y="576.70" width="9.80" height="9.80" fill="#111"/>
<rect x="198.38" y="573.60" width="9.80" height="9.80" fill="#111"/>
<rect x="230.72" y="572.10" width="9.80" height="9.80" fill="#111"/>
<rect x="263.08" y="572.10" width="9.80" height="9.80" fill="#111"/>
<rect x="295.43" y="573.10" width="9.80" height="9.80" fill="#111"/>
<rect x="327.78" y="489.60" width="9.80" height="9.80" fill="#111"/>
<rect x="360.12" y="468.00" width="9.80" height="9.80" fill="#111"/>
<rect x="392.48" y="433.50" width="9.80" height="9.80" fill="#111"/>
<rect x="424.83" y="405.10" width="9.80" height="9.80" fill="#111"/>
<rect x="457.18" y="414.60" width="9.80" height="9.80" fill="#111"/>
<rect x="489.53" y="408.10" width="9.80" height="9.80" fill="#111"/>
<polygon points="73.88,578.80 79.27,589.10 68.48,589.10" fill="#111"/>
<polygon points="106.23,577.90 111.62,588.20 100.84,588.20" fill="#111"/>
<polygon points="138.57,575.90 143.96,586.20 133.19,586.20" fill="#111"/>
<polygon points="170.93,577.70 176.31,588.00 165.54,588.00" fill="#111"/>
<polygon points="203.28,574.60 208.67,584.90 197.89,584.90" fill="#111"/>
<polygon points="235.62,577.60 241.01,587.90 230.24,587.90" fill="#111"/>
<polygon points="267.98,577.60 273.37,587.90 262.59,587.90" fill="#111"/>
<polygon points="300.32,577.60 305.71,587.90 294.94,587.90" fill="#111"/>
<polygon points="332.68,514.00 338.06,524.30 327.29,524.30" fill="#111"/>
<polygon points="365.02,452.70 370.41,463.00 359.63,463.00" fill="#111"/>
<polygon points="397.38,422.60 402.76,432.90 391.99,432.90" fill="#111"/>
<polygon points="429.73,403.60 435.12,413.90 424.34,413.90" fill="#111"/>
<polygon points="462.07,387.30 467.46,397.60 456.69,397.60" fill="#111"/>
<polygon points="494.43,366.10 499.81,376.40 489.04,376.40" fill="#111"/>
<circle cx="73.88" cy="580.20" r="5.20" fill="#111"/>
<circle cx="106.23" cy="579.30" r="5.20" fill="#111"/>
<circle cx="138.57" cy="577.30" r="5.20" fill="#111"/>
<circle cx="170.93" cy="579.10" r="5.20" fill="#111"/>
<circle cx="203.28" cy="576.00" r="5.20" fill="#111"/>
<circle cx="235.62" cy="575.00" r="5.20" fill="#111"/>
<circle cx="267.98" cy="575.00" r="5.20" fill="#111"/>
<circle cx="300.32" cy="576.00" r="5.20" fill="#111"/>
<circle cx="332.68" cy="489.00" r="5.20" fill="#111"/>
<circle cx="365.02" cy="447.50" r="5.20" fill="#111"/>
<circle cx="397.38" cy="426.40" r="5.20" fill="#111"/>
<circle cx="429.73" cy="408.30" r="5.20" fill="#111"/>
<circle cx="462.07" cy="384.90" r="5.20" fill="#111"/>
<circle cx="494.43" cy="377.50" r="5.20" fill="#111"/>
<circle cx="73.88" cy="580.90" r="4.45" fill="none" stroke="#111" stroke-width="1.5"/>
<circle cx="106.23" cy="580.00" r="4.45" fill="none" stroke="#111" stroke-width="1.5"/>
<circle cx="138.57" cy="578.00" r="4.45" fill="none" stroke="#111" stroke-width="1.5"/>
<circle cx="170.93" cy="579.80" r="4.45" fill="none" stroke="#111" stroke-width="1.5"/>
<circle cx="203.28" cy="576.70" r="4.45" fill="none" stroke="#111" stroke-width="1.5"/>
<circle cx="235.62" cy="564.70" r="4.45" fill="none" stroke="#111" stroke-width="1.5"/>
<circle cx="267.98" cy="564.70" r="4.45" fill="none" stroke="#111" stroke-width="1.5"/>
<circle cx="300.32" cy="567.20" r="4.45" fill="none" stroke="#111" stroke-width="1.5"/>
<circle cx="332.68" cy="544.80" r="4.45" fill="none" stroke="#111" stroke-width="1.5"/>
<circle cx="365.02" cy="501.40" r="4.45" fill="none" stroke="#111" stroke-width="1.5"/>
<circle cx="397.38" cy="487.70" r="4.45" fill="none" stroke="#111" stroke-width="1.5"/>
<circle cx="429.73" cy="437.60" r="4.45" fill="none" stroke="#111" stroke-width="1.5"/>
<circle cx="462.07" cy="451.40" r="4.45" fill="none" stroke="#111" stroke-width="1.5"/>
<circle cx="494.43" cy="426.70" r="4.45" fill="none" stroke="#111" stroke-width="1.5"/>
<rect x="69.72" y="579.75" width="8.30" height="8.30" fill="none" stroke="#111" stroke-width="1.5"/>
<rect x="102.08" y="578.85" width="8.30" height="8.30" fill="none" stroke="#111" stroke-width="1.5"/>
<rect x="134.42" y="576.85" width="8.30" height="8.30" fill="none" stroke="#111" stroke-width="1.5"/>
<rect x="166.78" y="578.65" width="8.30" height="8.30" fill="none" stroke="#111" stroke-width="1.5"/>
<rect x="199.13" y="575.55" width="8.30" height="8.30" fill="none" stroke="#111" stroke-width="1.5"/>
<rect x="231.47" y="568.85" width="8.30" height="8.30" fill="none" stroke="#111" stroke-width="1.5"/>
<rect x="263.83" y="568.85" width="8.30" height="8.30" fill="none" stroke="#111" stroke-width="1.5"/>
<rect x="296.18" y="569.35" width="8.30" height="8.30" fill="none" stroke="#111" stroke-width="1.5"/>
<rect x="328.53" y="575.05" width="8.30" height="8.30" fill="none" stroke="#111" stroke-width="1.5"/>
<rect x="360.88" y="572.35" width="8.30" height="8.30" fill="none" stroke="#111" stroke-width="1.5"/>
<polygon points="73.88,578.00 78.56,587.20 69.19,587.20" fill="none" stroke="#111" stroke-width="1.5" stroke-linejoin="miter"/>
<polygon points="106.23,577.10 110.92,586.30 101.54,586.30" fill="none" stroke="#111" stroke-width="1.5" stroke-linejoin="miter"/>
<polygon points="138.57,575.10 143.26,584.30 133.88,584.30" fill="none" stroke="#111" stroke-width="1.5" stroke-linejoin="miter"/>
<polygon points="170.93,576.90 175.62,586.10 166.24,586.10" fill="none" stroke="#111" stroke-width="1.5" stroke-linejoin="miter"/>
<polygon points="203.28,573.80 207.97,583.00 198.59,583.00" fill="none" stroke="#111" stroke-width="1.5" stroke-linejoin="miter"/>
<polygon points="235.62,568.10 240.31,577.30 230.94,577.30" fill="none" stroke="#111" stroke-width="1.5" stroke-linejoin="miter"/>
<polygon points="267.98,568.10 272.67,577.30 263.29,577.30" fill="none" stroke="#111" stroke-width="1.5" stroke-linejoin="miter"/>
<polygon points="300.32,569.10 305.01,578.30 295.63,578.30" fill="none" stroke="#111" stroke-width="1.5" stroke-linejoin="miter"/>
<polygon points="332.68,574.30 337.37,583.50 327.99,583.50" fill="none" stroke="#111" stroke-width="1.5" stroke-linejoin="miter"/>
<polygon points="365.02,571.60 369.71,580.80 360.33,580.80" fill="none" stroke="#111" stroke-width="1.5" stroke-linejoin="miter"/>
<circle cx="73.88" cy="583.40" r="4.45" fill="none" stroke="#111" stroke-width="1.5"/>
<circle cx="106.23" cy="582.50" r="4.45" fill="none" stroke="#111" stroke-width="1.5"/>
<circle cx="138.57" cy="580.50" r="4.45" fill="none" stroke="#111" stroke-width="1.5"/>
<circle cx="170.93" cy="582.30" r="4.45" fill="none" stroke="#111" stroke-width="1.5"/>
<circle cx="203.28" cy="579.20" r="4.45" fill="none" stroke="#111" stroke-width="1.5"/>
<circle cx="235.62" cy="572.50" r="4.45" fill="none" stroke="#111" stroke-width="1.5"/>
<circle cx="267.98" cy="572.50" r="4.45" fill="none" stroke="#111" stroke-width="1.5"/>
<circle cx="300.32" cy="573.00" r="4.45" fill="none" stroke="#111" stroke-width="1.5"/>
<circle cx="332.68" cy="579.20" r="4.45" fill="none" stroke="#111" stroke-width="1.5"/>
<circle cx="365.02" cy="576.50" r="4.45" fill="none" stroke="#111" stroke-width="1.5"/>
<circle cx="397.38" cy="579.20" r="4.45" fill="none" stroke="#111" stroke-width="1.5"/>
<line x1="332.68" y1="486.50" x2="332.68" y2="502.50" stroke="#111" stroke-width="1.4"/>
<line x1="328.38" y1="486.50" x2="336.98" y2="486.50" stroke="#111" stroke-width="1.4"/>
<line x1="328.38" y1="502.50" x2="336.98" y2="502.50" stroke="#111" stroke-width="1.4"/>
<line x1="365.02" y1="460.90" x2="365.02" y2="484.90" stroke="#111" stroke-width="1.4"/>
<line x1="360.72" y1="460.90" x2="369.32" y2="460.90" stroke="#111" stroke-width="1.4"/>
<line x1="360.72" y1="484.90" x2="369.32" y2="484.90" stroke="#111" stroke-width="1.4"/>
<line x1="397.38" y1="422.40" x2="397.38" y2="454.40" stroke="#111" stroke-width="1.4"/>
<line x1="393.07" y1="422.40" x2="401.68" y2="422.40" stroke="#111" stroke-width="1.4"/>
<line x1="393.07" y1="454.40" x2="401.68" y2="454.40" stroke="#111" stroke-width="1.4"/>
<line x1="429.73" y1="390.00" x2="429.73" y2="430.00" stroke="#111" stroke-width="1.4"/>
<line x1="425.43" y1="390.00" x2="434.03" y2="390.00" stroke="#111" stroke-width="1.4"/>
<line x1="425.43" y1="430.00" x2="434.03" y2="430.00" stroke="#111" stroke-width="1.4"/>
<line x1="462.07" y1="412.50" x2="462.07" y2="426.50" stroke="#111" stroke-width="1.4"/>
<line x1="457.77" y1="412.50" x2="466.38" y2="412.50" stroke="#111" stroke-width="1.4"/>
<line x1="457.77" y1="426.50" x2="466.38" y2="426.50" stroke="#111" stroke-width="1.4"/>
<line x1="494.43" y1="396.00" x2="494.43" y2="430.00" stroke="#111" stroke-width="1.4"/>
<line x1="490.12" y1="396.00" x2="498.73" y2="396.00" stroke="#111" stroke-width="1.4"/>
<line x1="490.12" y1="430.00" x2="498.73" y2="430.00" stroke="#111" stroke-width="1.4"/>
<line x1="332.68" y1="507.40" x2="332.68" y2="531.40" stroke="#111" stroke-width="1.4"/>
<line x1="328.38" y1="507.40" x2="336.98" y2="507.40" stroke="#111" stroke-width="1.4"/>
<line x1="328.38" y1="531.40" x2="336.98" y2="531.40" stroke="#111" stroke-width="1.4"/>
<line x1="365.02" y1="446.10" x2="365.02" y2="470.10" stroke="#111" stroke-width="1.4"/>
<line x1="360.72" y1="446.10" x2="369.32" y2="446.10" stroke="#111" stroke-width="1.4"/>
<line x1="360.72" y1="470.10" x2="369.32" y2="470.10" stroke="#111" stroke-width="1.4"/>
<line x1="397.38" y1="414.00" x2="397.38" y2="442.00" stroke="#111" stroke-width="1.4"/>
<line x1="393.07" y1="414.00" x2="401.68" y2="414.00" stroke="#111" stroke-width="1.4"/>
<line x1="393.07" y1="442.00" x2="401.68" y2="442.00" stroke="#111" stroke-width="1.4"/>
<line x1="429.73" y1="394.00" x2="429.73" y2="424.00" stroke="#111" stroke-width="1.4"/>
<line x1="425.43" y1="394.00" x2="434.03" y2="394.00" stroke="#111" stroke-width="1.4"/>
<line x1="425.43" y1="424.00" x2="434.03" y2="424.00" stroke="#111" stroke-width="1.4"/>
<line x1="462.07" y1="379.70" x2="462.07" y2="405.70" stroke="#111" stroke-width="1.4"/>
<line x1="457.77" y1="379.70" x2="466.38" y2="379.70" stroke="#111" stroke-width="1.4"/>
<line x1="457.77" y1="405.70" x2="466.38" y2="405.70" stroke="#111" stroke-width="1.4"/>
<line x1="494.43" y1="346.00" x2="494.43" y2="397.00" stroke="#111" stroke-width="1.4"/>
<line x1="490.12" y1="346.00" x2="498.73" y2="346.00" stroke="#111" stroke-width="1.4"/>
<line x1="490.12" y1="397.00" x2="498.73" y2="397.00" stroke="#111" stroke-width="1.4"/>
<line x1="332.68" y1="469.00" x2="332.68" y2="509.00" stroke="#111" stroke-width="1.4"/>
<line x1="328.38" y1="469.00" x2="336.98" y2="469.00" stroke="#111" stroke-width="1.4"/>
<line x1="328.38" y1="509.00" x2="336.98" y2="509.00" stroke="#111" stroke-width="1.4"/>
<line x1="365.02" y1="435.50" x2="365.02" y2="459.50" stroke="#111" stroke-width="1.4"/>
<line x1="360.72" y1="435.50" x2="369.32" y2="435.50" stroke="#111" stroke-width="1.4"/>
<line x1="360.72" y1="459.50" x2="369.32" y2="459.50" stroke="#111" stroke-width="1.4"/>
<line x1="397.38" y1="405.40" x2="397.38" y2="447.40" stroke="#111" stroke-width="1.4"/>
<line x1="393.07" y1="405.40" x2="401.68" y2="405.40" stroke="#111" stroke-width="1.4"/>
<line x1="393.07" y1="447.40" x2="401.68" y2="447.40" stroke="#111" stroke-width="1.4"/>
<line x1="429.73" y1="377.30" x2="429.73" y2="439.30" stroke="#111" stroke-width="1.4"/>
<line x1="425.43" y1="377.30" x2="434.03" y2="377.30" stroke="#111" stroke-width="1.4"/>
<line x1="425.43" y1="439.30" x2="434.03" y2="439.30" stroke="#111" stroke-width="1.4"/>
<line x1="462.07" y1="371.90" x2="462.07" y2="397.90" stroke="#111" stroke-width="1.4"/>
<line x1="457.77" y1="371.90" x2="466.38" y2="371.90" stroke="#111" stroke-width="1.4"/>
<line x1="457.77" y1="397.90" x2="466.38" y2="397.90" stroke="#111" stroke-width="1.4"/>
<line x1="494.43" y1="371.50" x2="494.43" y2="383.50" stroke="#111" stroke-width="1.4"/>
<line x1="490.12" y1="371.50" x2="498.73" y2="371.50" stroke="#111" stroke-width="1.4"/>
<line x1="490.12" y1="383.50" x2="498.73" y2="383.50" stroke="#111" stroke-width="1.4"/>
<line x1="235.62" y1="559.70" x2="235.62" y2="569.70" stroke="#111" stroke-width="1.4"/>
<line x1="231.32" y1="559.70" x2="239.93" y2="559.70" stroke="#111" stroke-width="1.4"/>
<line x1="231.32" y1="569.70" x2="239.93" y2="569.70" stroke="#111" stroke-width="1.4"/>
<line x1="267.98" y1="559.70" x2="267.98" y2="569.70" stroke="#111" stroke-width="1.4"/>
<line x1="263.68" y1="559.70" x2="272.28" y2="559.70" stroke="#111" stroke-width="1.4"/>
<line x1="263.68" y1="569.70" x2="272.28" y2="569.70" stroke="#111" stroke-width="1.4"/>
<line x1="300.32" y1="562.20" x2="300.32" y2="572.20" stroke="#111" stroke-width="1.4"/>
<line x1="296.02" y1="562.20" x2="304.62" y2="562.20" stroke="#111" stroke-width="1.4"/>
<line x1="296.02" y1="572.20" x2="304.62" y2="572.20" stroke="#111" stroke-width="1.4"/>
<line x1="332.68" y1="539.80" x2="332.68" y2="549.80" stroke="#111" stroke-width="1.4"/>
<line x1="328.38" y1="539.80" x2="336.98" y2="539.80" stroke="#111" stroke-width="1.4"/>
<line x1="328.38" y1="549.80" x2="336.98" y2="549.80" stroke="#111" stroke-width="1.4"/>
<line x1="365.02" y1="481.40" x2="365.02" y2="521.40" stroke="#111" stroke-width="1.4"/>
<line x1="360.72" y1="481.40" x2="369.32" y2="481.40" stroke="#111" stroke-width="1.4"/>
<line x1="360.72" y1="521.40" x2="369.32" y2="521.40" stroke="#111" stroke-width="1.4"/>
<line x1="397.38" y1="475.10" x2="397.38" y2="500.30" stroke="#111" stroke-width="1.4"/>
<line x1="393.07" y1="475.10" x2="401.68" y2="475.10" stroke="#111" stroke-width="1.4"/>
<line x1="393.07" y1="500.30" x2="401.68" y2="500.30" stroke="#111" stroke-width="1.4"/>
<line x1="429.73" y1="416.60" x2="429.73" y2="458.60" stroke="#111" stroke-width="1.4"/>
<line x1="425.43" y1="416.60" x2="434.03" y2="416.60" stroke="#111" stroke-width="1.4"/>
<line x1="425.43" y1="458.60" x2="434.03" y2="458.60" stroke="#111" stroke-width="1.4"/>
<line x1="462.07" y1="438.80" x2="462.07" y2="464.00" stroke="#111" stroke-width="1.4"/>
<line x1="457.77" y1="438.80" x2="466.38" y2="438.80" stroke="#111" stroke-width="1.4"/>
<line x1="457.77" y1="464.00" x2="466.38" y2="464.00" stroke="#111" stroke-width="1.4"/>
<line x1="494.43" y1="409.70" x2="494.43" y2="443.70" stroke="#111" stroke-width="1.4"/>
<line x1="490.12" y1="409.70" x2="498.73" y2="409.70" stroke="#111" stroke-width="1.4"/>
<line x1="490.12" y1="443.70" x2="498.73" y2="443.70" stroke="#111" stroke-width="1.4"/>
<line x1="365.02" y1="567.10" x2="365.02" y2="585.90" stroke="#111" stroke-width="1.4"/>
<line x1="360.72" y1="567.10" x2="369.32" y2="567.10" stroke="#111" stroke-width="1.4"/>
<line x1="360.72" y1="585.90" x2="369.32" y2="585.90" stroke="#111" stroke-width="1.4"/>
<polygon points="321.30,492.40 323.40,494.50 321.30,496.60 319.20,494.50" fill="#111"/>
<text x="435.20" y="428.80" font-size="11" style="stroke-width:0.15px">&amp;</text>
<text x="2.20" y="679.60" font-size="16.5" font-weight="bold" >C</text>
<line x1="90.8" y1="688.00" x2="90.8" y2="950.90" stroke="#111" stroke-width="1.5"/>
<line x1="82.30" y1="944.40" x2="90.8" y2="944.40" stroke="#111" stroke-width="1.5"/>
<text x="76.00" y="950.20" font-size="14.2" text-anchor="end" >0</text>
<line x1="82.30" y1="893.12" x2="90.8" y2="893.12" stroke="#111" stroke-width="1.5"/>
<text x="76.00" y="898.92" font-size="14.2" text-anchor="end" >20</text>
<line x1="82.30" y1="841.84" x2="90.8" y2="841.84" stroke="#111" stroke-width="1.5"/>
<text x="76.00" y="847.64" font-size="14.2" text-anchor="end" >40</text>
<line x1="82.30" y1="790.56" x2="90.8" y2="790.56" stroke="#111" stroke-width="1.5"/>
<text x="76.00" y="796.36" font-size="14.2" text-anchor="end" >60</text>
<line x1="82.30" y1="739.28" x2="90.8" y2="739.28" stroke="#111" stroke-width="1.5"/>
<text x="76.00" y="745.08" font-size="14.2" text-anchor="end" >80</text>
<line x1="82.30" y1="688.00" x2="90.8" y2="688.00" stroke="#111" stroke-width="1.5"/>
<text x="76.00" y="693.80" font-size="14.2" text-anchor="end" >100</text>
<rect x="98.93" y="701.00" width="11.70" height="243.40" fill="url(#hatch)"/>
<line x1="104.78" y1="697.20" x2="104.78" y2="701.00" stroke="#111" stroke-width="1.7"/>
<path d="M101.88,696.30 L107.68,696.30 L105.98,698.60 L103.58,698.60 Z" fill="#111"/>
<rect x="110.63" y="729.50" width="11.70" height="214.90" fill="#000"/>
<line x1="116.48" y1="700.50" x2="116.48" y2="729.50" stroke="#111" stroke-width="1.7"/>
<path d="M113.58,699.60 L119.38,699.60 L117.68,701.90 L115.28,701.90 Z" fill="#111"/>
<rect x="122.83" y="712.70" width="10.70" height="231.70" fill="#8c8c8c" stroke="#6a6a6a" stroke-width="1"/>
<line x1="128.18" y1="702.50" x2="128.18" y2="712.20" stroke="#111" stroke-width="1.7"/>
<path d="M125.28,701.60 L131.08,701.60 L129.38,703.90 L126.98,703.90 Z" fill="#111"/>
<rect x="134.63" y="719.40" width="10.50" height="225.00" fill="#fff" stroke="#9a9a9a" stroke-width="1.2"/>
<line x1="139.88" y1="710.50" x2="139.88" y2="718.80" stroke="#111" stroke-width="1.7"/>
<path d="M136.98,709.60 L142.78,709.60 L141.08,711.90 L138.68,711.90 Z" fill="#111"/>
<rect x="162.00" y="770.20" width="11.70" height="174.20" fill="url(#hatch)"/>
<line x1="167.85" y1="754.80" x2="167.85" y2="770.20" stroke="#111" stroke-width="1.7"/>
<path d="M164.95,753.90 L170.75,753.90 L169.05,756.20 L166.65,756.20 Z" fill="#111"/>
<rect x="173.70" y="825.50" width="11.70" height="118.90" fill="#000"/>
<line x1="179.55" y1="803.40" x2="179.55" y2="825.50" stroke="#111" stroke-width="1.7"/>
<path d="M176.65,802.50 L182.45,802.50 L180.75,804.80 L178.35,804.80 Z" fill="#111"/>
<rect x="185.90" y="788.10" width="10.70" height="156.30" fill="#8c8c8c" stroke="#6a6a6a" stroke-width="1"/>
<line x1="191.25" y1="758.90" x2="191.25" y2="787.60" stroke="#111" stroke-width="1.7"/>
<path d="M188.35,758.00 L194.15,758.00 L192.45,760.30 L190.05,760.30 Z" fill="#111"/>
<rect x="197.70" y="802.40" width="10.50" height="142.00" fill="#fff" stroke="#9a9a9a" stroke-width="1.2"/>
<line x1="202.95" y1="745.40" x2="202.95" y2="801.80" stroke="#111" stroke-width="1.7"/>
<path d="M200.05,744.50 L205.85,744.50 L204.15,746.80 L201.75,746.80 Z" fill="#111"/>
<rect x="225.07" y="891.20" width="11.70" height="53.20" fill="url(#hatch)"/>
<line x1="230.92" y1="878.50" x2="230.92" y2="891.20" stroke="#111" stroke-width="1.7"/>
<path d="M228.02,877.60 L233.82,877.60 L232.12,879.90 L229.72,879.90 Z" fill="#111"/>
<rect x="236.77" y="885.20" width="11.70" height="59.20" fill="#000"/>
<line x1="242.62" y1="866.90" x2="242.62" y2="885.20" stroke="#111" stroke-width="1.7"/>
<path d="M239.72,866.00 L245.52,866.00 L243.82,868.30 L241.42,868.30 Z" fill="#111"/>
<rect x="248.97" y="905.10" width="10.70" height="39.30" fill="#8c8c8c" stroke="#6a6a6a" stroke-width="1"/>
<line x1="254.32" y1="895.70" x2="254.32" y2="904.60" stroke="#111" stroke-width="1.7"/>
<path d="M251.42,894.80 L257.22,894.80 L255.52,897.10 L253.12,897.10 Z" fill="#111"/>
<rect x="260.77" y="903.90" width="10.50" height="40.50" fill="#fff" stroke="#9a9a9a" stroke-width="1.2"/>
<line x1="266.02" y1="899.20" x2="266.02" y2="903.30" stroke="#111" stroke-width="1.7"/>
<path d="M263.12,898.30 L268.92,898.30 L267.22,900.60 L264.82,900.60 Z" fill="#111"/>
<rect x="288.13" y="932.10" width="11.70" height="12.30" fill="url(#hatch)"/>
<line x1="293.98" y1="923.50" x2="293.98" y2="932.10" stroke="#111" stroke-width="1.7"/>
<path d="M291.08,922.60 L296.88,922.60 L295.18,924.90 L292.78,924.90 Z" fill="#111"/>
<rect x="299.83" y="889.80" width="11.70" height="54.60" fill="#000"/>
<line x1="305.68" y1="872.30" x2="305.68" y2="889.80" stroke="#111" stroke-width="1.7"/>
<path d="M302.78,871.40 L308.58,871.40 L306.88,873.70 L304.48,873.70 Z" fill="#111"/>
<rect x="312.03" y="888.20" width="10.70" height="56.20" fill="#8c8c8c" stroke="#6a6a6a" stroke-width="1"/>
<line x1="317.38" y1="867.70" x2="317.38" y2="887.70" stroke="#111" stroke-width="1.7"/>
<path d="M314.48,866.80 L320.28,866.80 L318.58,869.10 L316.18,869.10 Z" fill="#111"/>
<rect x="323.83" y="905.20" width="10.50" height="39.20" fill="#fff" stroke="#9a9a9a" stroke-width="1.2"/>
<line x1="329.08" y1="860.50" x2="329.08" y2="904.60" stroke="#111" stroke-width="1.7"/>
<path d="M326.18,859.60 L331.98,859.60 L330.28,861.90 L327.88,861.90 Z" fill="#111"/>
<rect x="351.20" y="936.10" width="11.70" height="8.30" fill="url(#hatch)"/>
<line x1="357.05" y1="931.50" x2="357.05" y2="936.10" stroke="#111" stroke-width="1.7"/>
<path d="M354.15,930.60 L359.95,930.60 L358.25,932.90 L355.85,932.90 Z" fill="#111"/>
<rect x="362.90" y="913.20" width="11.70" height="31.20" fill="#000"/>
<line x1="368.75" y1="900.90" x2="368.75" y2="913.20" stroke="#111" stroke-width="1.7"/>
<path d="M365.85,900.00 L371.65,900.00 L369.95,902.30 L367.55,902.30 Z" fill="#111"/>
<rect x="375.10" y="897.80" width="10.70" height="46.60" fill="#8c8c8c" stroke="#6a6a6a" stroke-width="1"/>
<line x1="380.45" y1="885.20" x2="380.45" y2="897.30" stroke="#111" stroke-width="1.7"/>
<path d="M377.55,884.30 L383.35,884.30 L381.65,886.60 L379.25,886.60 Z" fill="#111"/>
<rect x="386.90" y="916.80" width="10.50" height="27.60" fill="#fff" stroke="#9a9a9a" stroke-width="1.2"/>
<line x1="392.15" y1="887.90" x2="392.15" y2="916.20" stroke="#111" stroke-width="1.7"/>
<path d="M389.25,887.00 L395.05,887.00 L393.35,889.30 L390.95,889.30 Z" fill="#111"/>
<rect x="414.27" y="932.10" width="11.70" height="12.30" fill="url(#hatch)"/>
<line x1="420.12" y1="925.60" x2="420.12" y2="932.10" stroke="#111" stroke-width="1.7"/>
<path d="M417.22,924.70 L423.02,924.70 L421.32,927.00 L418.92,927.00 Z" fill="#111"/>
<rect x="425.97" y="887.90" width="11.70" height="56.50" fill="#000"/>
<line x1="431.82" y1="857.20" x2="431.82" y2="887.90" stroke="#111" stroke-width="1.7"/>
<path d="M428.92,856.30 L434.72,856.30 L433.02,858.60 L430.62,858.60 Z" fill="#111"/>
<rect x="438.17" y="893.50" width="10.70" height="50.90" fill="#8c8c8c" stroke="#6a6a6a" stroke-width="1"/>
<line x1="443.52" y1="876.30" x2="443.52" y2="893.00" stroke="#111" stroke-width="1.7"/>
<path d="M440.62,875.40 L446.42,875.40 L444.72,877.70 L442.32,877.70 Z" fill="#111"/>
<rect x="449.97" y="913.30" width="10.50" height="31.10" fill="#fff" stroke="#9a9a9a" stroke-width="1.2"/>
<line x1="455.22" y1="912.20" x2="455.22" y2="912.70" stroke="#111" stroke-width="1.7"/>
<path d="M452.32,911.30 L458.12,911.30 L456.42,913.60 L454.02,913.60 Z" fill="#111"/>
<line x1="82.30" y1="944.4" x2="469.2" y2="944.4" stroke="#111" stroke-width="1.5"/>
<line x1="90.80" y1="944.4" x2="90.80" y2="950.90" stroke="#111" stroke-width="1.5"/>
<line x1="153.87" y1="944.4" x2="153.87" y2="950.90" stroke="#111" stroke-width="1.5"/>
<line x1="216.93" y1="944.4" x2="216.93" y2="950.90" stroke="#111" stroke-width="1.5"/>
<line x1="280.00" y1="944.4" x2="280.00" y2="950.90" stroke="#111" stroke-width="1.5"/>
<line x1="343.07" y1="944.4" x2="343.07" y2="950.90" stroke="#111" stroke-width="1.5"/>
<line x1="406.13" y1="944.4" x2="406.13" y2="950.90" stroke="#111" stroke-width="1.5"/>
<line x1="469.20" y1="944.4" x2="469.20" y2="950.90" stroke="#111" stroke-width="1.5"/>
<text x="122.33" y="969.60" font-size="16" text-anchor="middle" textLength="30.00" lengthAdjust="spacingAndGlyphs" style="stroke-width:0.2px">CD3</text>
<text x="185.40" y="969.60" font-size="16" text-anchor="middle" textLength="30.50" lengthAdjust="spacingAndGlyphs" style="stroke-width:0.2px">CD4</text>
<text x="248.47" y="969.60" font-size="16" text-anchor="middle" textLength="30.50" lengthAdjust="spacingAndGlyphs" style="stroke-width:0.2px">CD8</text>
<text x="311.53" y="969.60" font-size="16" text-anchor="middle" textLength="25.50" lengthAdjust="spacingAndGlyphs" style="stroke-width:0.2px">Gr1</text>
<text x="374.60" y="969.60" font-size="16" text-anchor="middle" textLength="38.50" lengthAdjust="spacingAndGlyphs" style="stroke-width:0.2px">B220</text>
<text x="437.67" y="969.60" font-size="16" text-anchor="middle" textLength="42.00" lengthAdjust="spacingAndGlyphs" style="stroke-width:0.2px">Mac1</text>
<text transform="translate(36.8,933.1) rotate(-90)" font-size="17.2" textLength="225.8" lengthAdjust="spacingAndGlyphs">% Lineage<tspan dy="-6" font-size="10">+</tspan><tspan dy="6"> / Total donor cells</tspan></text>
<rect x="214.4" y="667.70" width="11.5" height="10.6" fill="url(#hatch)"/>
<text x="232.30" y="678.70" font-size="14.1" textLength="67.20" lengthAdjust="spacingAndGlyphs" >SJL/J (n=6)</text>
<rect x="214.4" y="688.70" width="11.5" height="10.6" fill="#000"/>
<text x="232.30" y="699.70" font-size="14.1" textLength="167.60" lengthAdjust="spacingAndGlyphs" >SCD chimera 138cGy (n=8)</text>
<rect x="214.9" y="710.20" width="10.5" height="9.6" fill="#8c8c8c" stroke="#6a6a6a" stroke-width="1"/>
<text x="232.30" y="720.70" font-size="14.1" textLength="171.30" lengthAdjust="spacingAndGlyphs" >Thal chimera 138cGy (n=6)</text>
<rect x="215.0" y="731.30" width="10.4" height="9.6" fill="#fff" stroke="#9a9a9a" stroke-width="1.2"/>
<text x="232.30" y="741.70" font-size="14.1" textLength="167.10" lengthAdjust="spacingAndGlyphs" >WT chimera 138cGy (n=6)</text>
</svg></body></html>
